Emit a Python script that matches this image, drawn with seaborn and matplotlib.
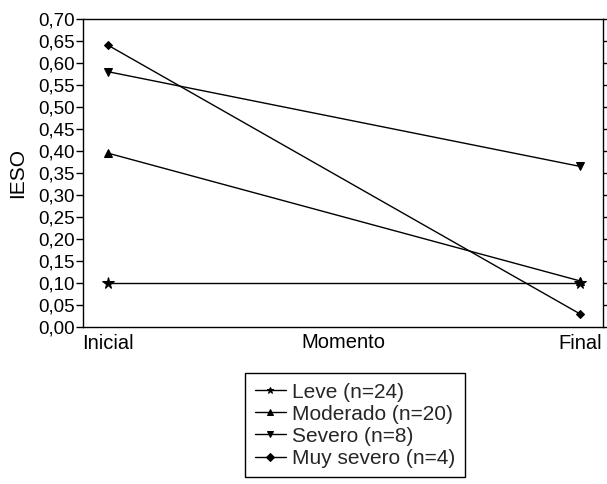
import pandas as pd
import numpy as np
import matplotlib
matplotlib.use('Agg')
import matplotlib.pyplot as plt
import seaborn as sns
from matplotlib.ticker import FuncFormatter, MultipleLocator

sns.set_theme(style='ticks')
plt.rcParams['font.family'] = ['Liberation Sans', 'DejaVu Sans']

# datos
momentos = ['Inicial', 'Final']
grupos = ['Leve (n=24)', 'Moderado (n=20)', 'Severo (n=8)', 'Muy severo (n=4)']
leve = [0.10, 0.10]
moderado = [0.395, 0.105]
severo = [0.58, 0.365]
muy_severo = [0.64, 0.03]

rows = []
for g, vals in zip(grupos, [leve, moderado, severo, muy_severo]):
    for i, (m, v) in enumerate(zip(momentos, vals)):
        rows.append({'Grupo': g, 'Momento': m, 'pos': i, 'IESO': v})
df = pd.DataFrame(rows)

marcadores = {grupos[0]: '*', grupos[1]: '^', grupos[2]: 'v', grupos[3]: 'D'}
tamanos = {grupos[0]: 8.5, grupos[1]: 6, grupos[2]: 6, grupos[3]: 4.5}

fig = plt.figure(figsize=(6.07, 4.84), dpi=100)
ax = fig.add_axes([0.137, 0.324, 0.856, 0.637])

for g in grupos:
    sub = df[df['Grupo'] == g]
    sns.lineplot(data=sub, x='pos', y='IESO', ax=ax, color='black', lw=1,
                 marker=marcadores[g], markersize=tamanos[g], markeredgecolor='black',
                 label=g, legend=False)

ax.set_xlim(-0.053, 1.048)
ax.set_ylim(0, 0.70)
ax.set_xticks([0, 1])
ax.set_xticklabels(momentos)
ax.yaxis.set_major_locator(MultipleLocator(0.05))
ax.yaxis.set_major_formatter(FuncFormatter(lambda v, p: f'{v:.2f}'.replace('.', ',')))
ax.tick_params(axis='y', direction='out', length=5, width=1,
               labelsize=13.5, colors='black', right=True, labelright=False, pad=1)
ax.tick_params(axis='x', length=0, labelsize=14.5, pad=5, colors='black')

for s in ax.spines.values():
    s.set_color('black')
    s.set_linewidth(1)
    s.set_visible(True)

ax.set_ylabel('IESO', fontsize=15, color='black', labelpad=8)
ax.set_xlabel('Momento', fontsize=14.5, color='black')
ax.xaxis.set_label_coords(0.5, -0.018)
ax.xaxis.label.set_va('top')

handles, labels = ax.get_legend_handles_labels()
leg = fig.legend(handles, labels, loc='upper left', bbox_to_anchor=(0.404, 0.229),
                 frameon=True, fancybox=False, framealpha=1, edgecolor='black',
                 fontsize=15, handlelength=1.5, handletextpad=0.3, labelspacing=0.15,
                 borderpad=0.45, borderaxespad=0)
leg.get_frame().set_linewidth(1)
for h in leg.legend_handles:
    h.set_markersize(4.5)

fig.savefig('out.png', dpi=100)
